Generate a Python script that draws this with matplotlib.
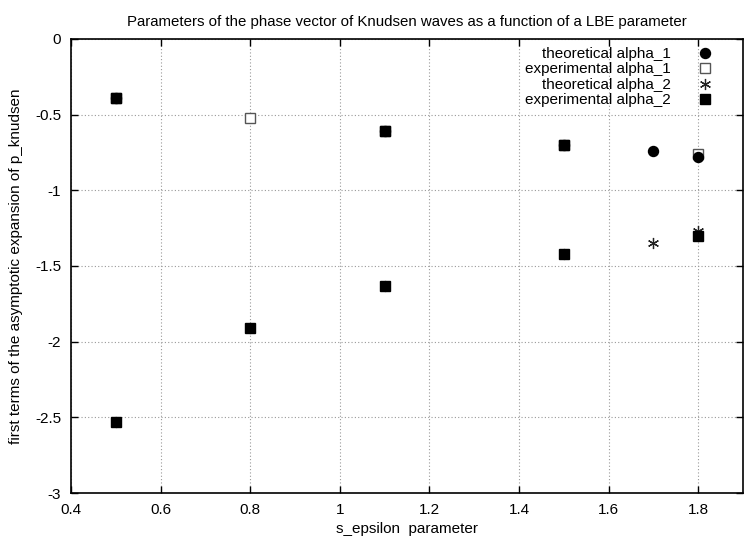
import matplotlib
matplotlib.use('Agg')
import matplotlib.pyplot as plt

plt.rcParams['font.family'] = ['Liberation Sans', 'DejaVu Sans']

# data
th_a1_x = [0.5, 1.1, 1.5, 1.7, 1.8]
th_a1_y = [-0.39, -0.61, -0.70, -0.74, -0.78]

ex_a1_x = [0.5, 0.8, 1.1, 1.5, 1.8]
ex_a1_y = [-0.39, -0.52, -0.61, -0.70, -0.76]

th_a2_x = [0.5, 0.8, 1.1, 1.5, 1.7, 1.8]
th_a2_y = [-2.53, -1.91, -1.63, -1.42, -1.35, -1.27]

ex_a2_x = [0.5, 0.5, 0.8, 1.1, 1.1, 1.5, 1.5, 1.8]
ex_a2_y = [-0.39, -2.53, -1.91, -0.61, -1.63, -0.70, -1.42, -1.30]

xticks = [0.4, 0.6, 0.8, 1.0, 1.2, 1.4, 1.6, 1.8]
xticklabels = ['0.4', '0.6', '0.8', '1', '1.2', '1.4', '1.6', '1.8']
yticks = [-3, -2.5, -2, -1.5, -1, -0.5, 0]
yticklabels = ['-3', '-2.5', '-2', '-1.5', '-1', '-0.5', '0']

fig = plt.figure(figsize=(7.47, 5.41), dpi=100)
ax = fig.add_axes([0.095, 0.0887, 0.8996, 0.8393])

# open squares sit under the circles, filled squares on top
ax.plot(th_a1_x, th_a1_y, 'o', color='black', markersize=7.2, linestyle='none',
        label='theoretical alpha_1', zorder=4)
ax.plot(ex_a1_x, ex_a1_y, 's', markerfacecolor='white', markeredgecolor='#555555',
        markeredgewidth=1.0, markersize=7.5, linestyle='none',
        label='experimental alpha_1', zorder=3)
ax.plot(th_a2_x, th_a2_y, marker=(6, 2, 0), color='#222222', markersize=8,
        markeredgewidth=0.9, linestyle='none', label='theoretical alpha_2', zorder=5)
ax.plot(ex_a2_x, ex_a2_y, 's', color='black', markersize=7.2, linestyle='none',
        label='experimental alpha_2', zorder=6)

ax.set_xlim(0.4, 1.9)
ax.set_ylim(-3, 0)
ax.set_xticks(xticks)
ax.set_xticklabels(xticklabels)
ax.set_yticks(yticks)
ax.set_yticklabels(yticklabels)
ax.tick_params(direction='in', length=5, width=1, top=True, right=True,
               labelsize=11, pad=7)
ax.grid(True, linestyle=(0, (1, 2)), color='#999999', linewidth=0.8)
for s in ax.spines.values():
    s.set_linewidth(1.2)

ax.set_title('Parameters of the phase vector of Knudsen waves as a function of a LBE parameter',
             fontsize=10.8, pad=9)
ax.set_xlabel('s_epsilon  parameter', fontsize=11, labelpad=4)
ax.set_ylabel('first terms of the asymptotic expansion of p_knudsen', fontsize=11, labelpad=9)

ax.legend(loc='upper right', bbox_to_anchor=(0.966, 0.996), frameon=False, markerfirst=False,
          fontsize=11, labelspacing=0.1, handletextpad=1.6, handlelength=1.2,
          borderaxespad=0.0)

fig.savefig('out.png', dpi=100)
